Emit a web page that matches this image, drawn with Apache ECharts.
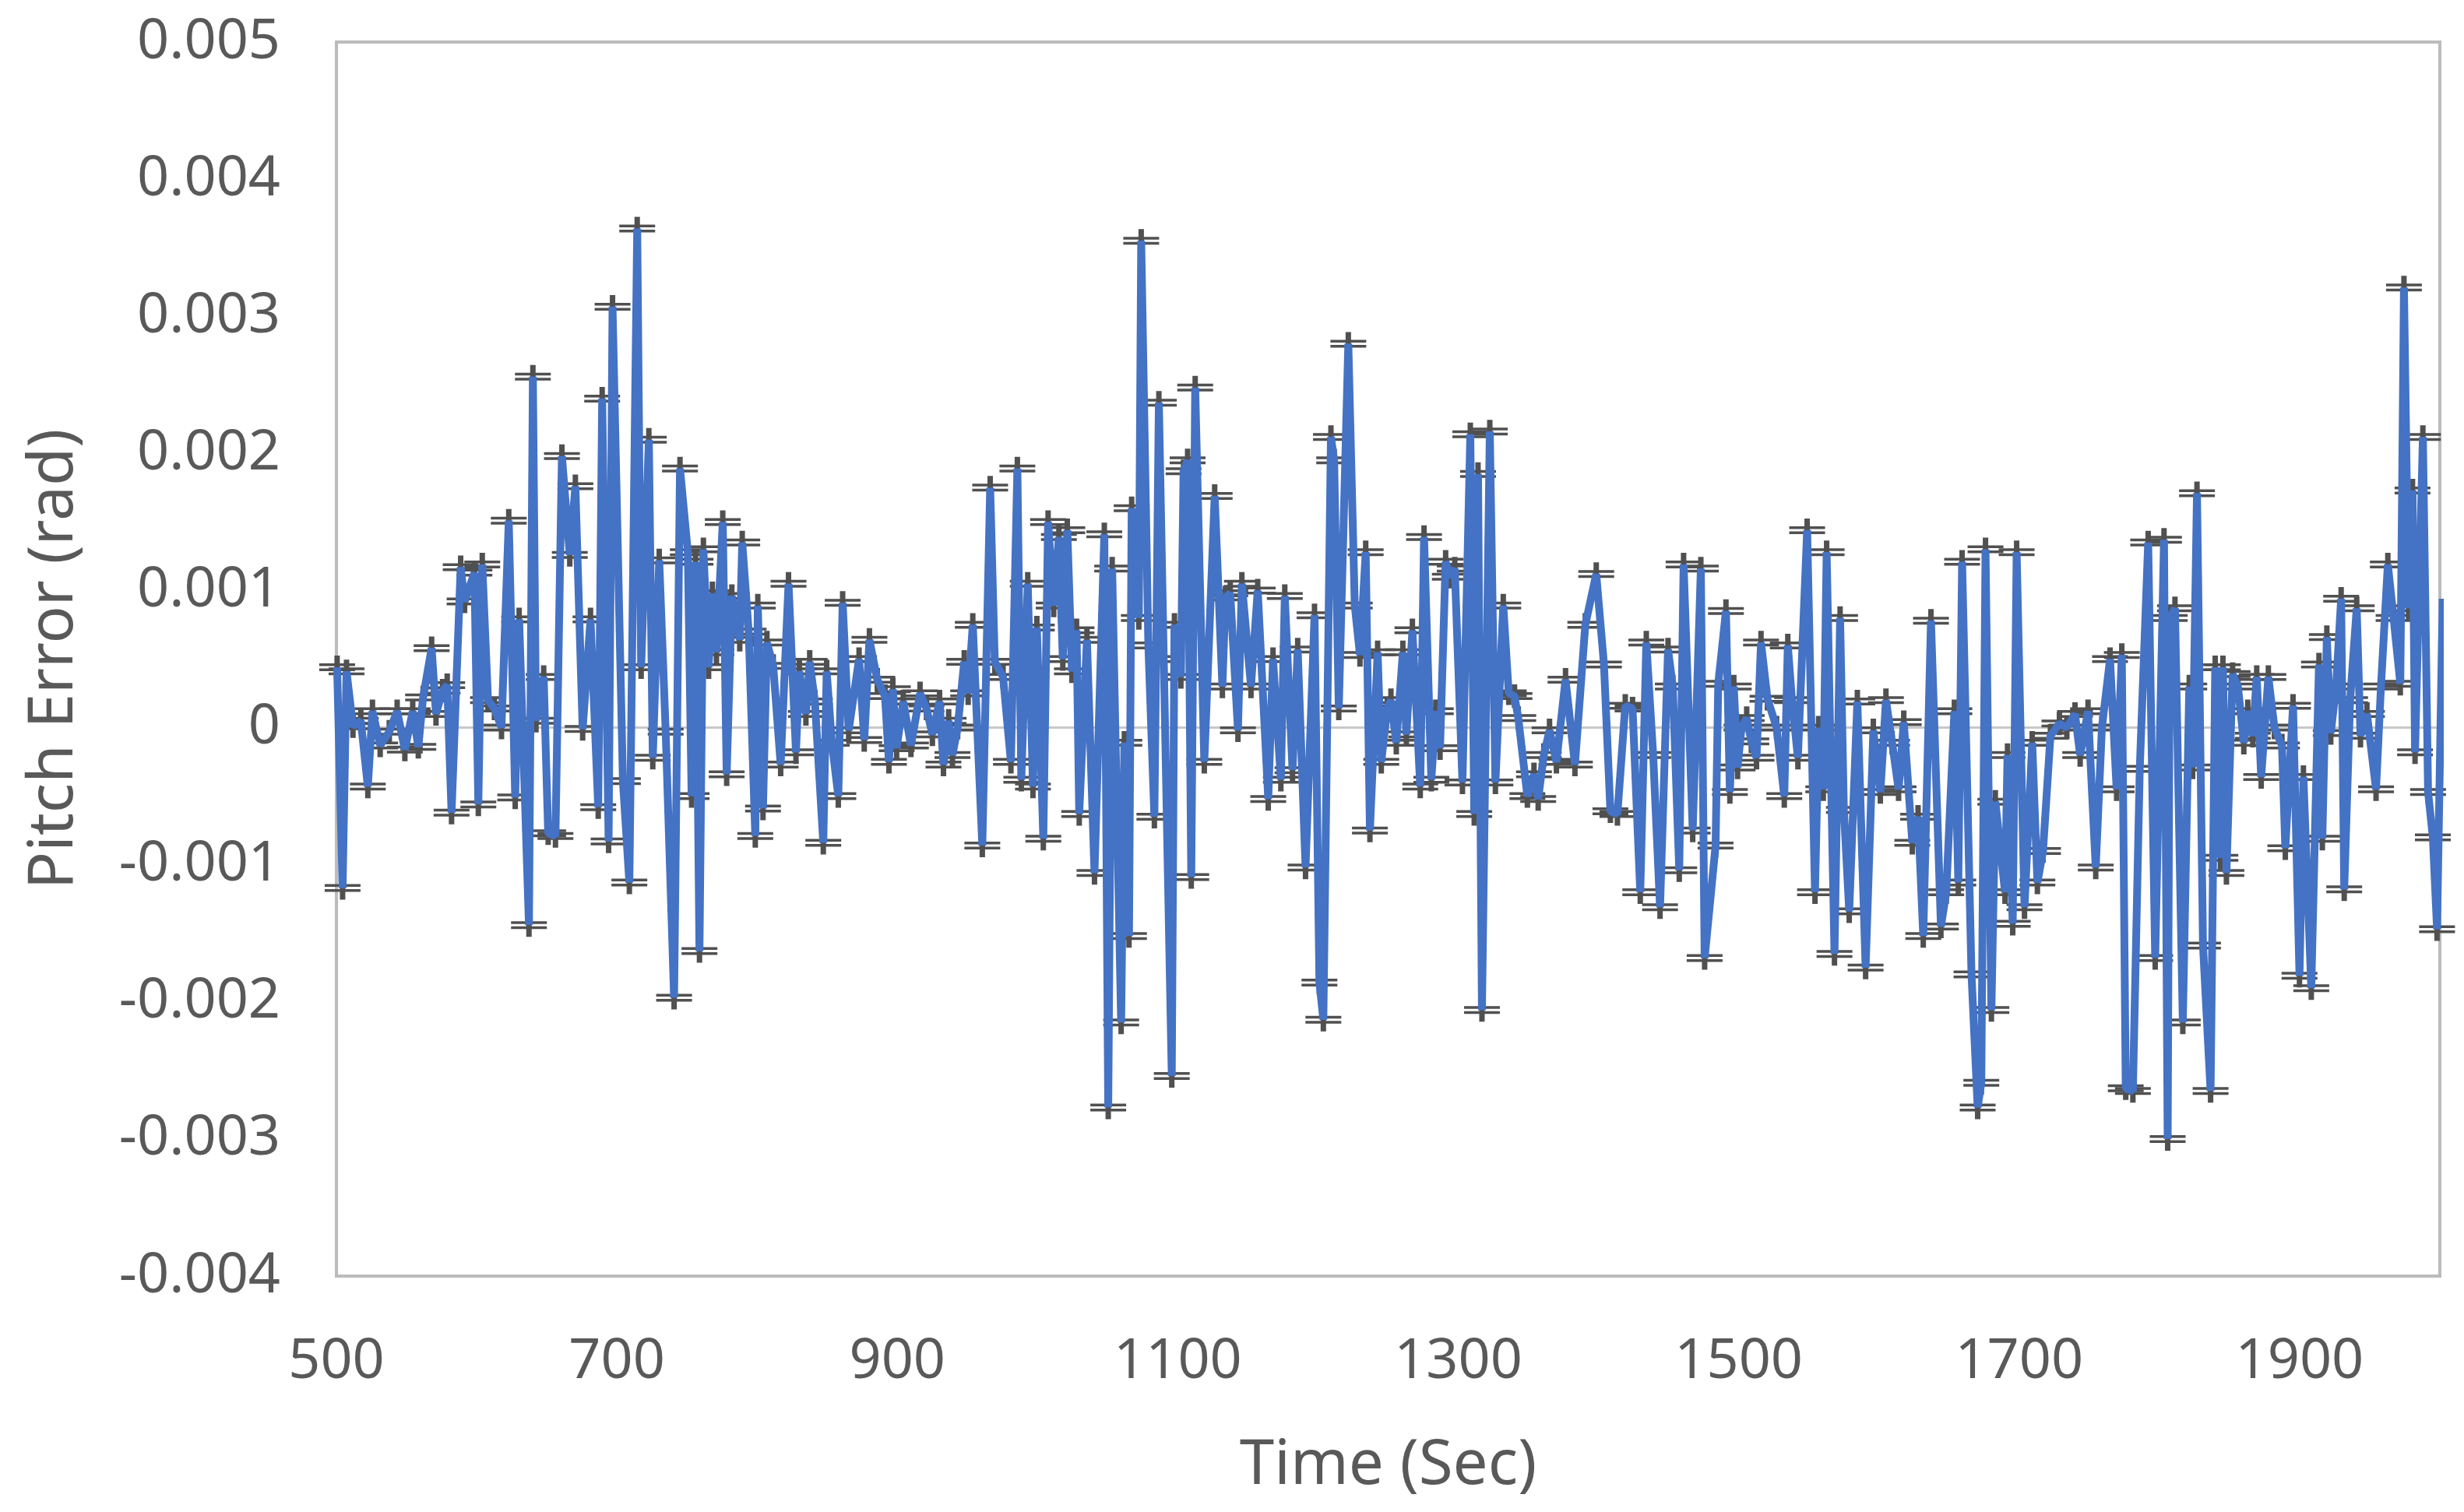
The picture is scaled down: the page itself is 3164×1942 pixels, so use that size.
<!DOCTYPE html>
<html>
<head>
<meta charset="utf-8">
<script src="https://cdn.jsdelivr.net/npm/echarts@6/dist/echarts.min.js"></script>
<style>
html,body{margin:0;padding:0;background:#fff;}
#chart{width:3164px;height:1942px;}
</style>
</head>
<body>
<div id="chart"></div>
<script>
// Time (s)
var timeSec = [
500.5,504.4,507.2,511.8,517.4,522.4,525.7,531.2,537.7,543.3,548.8,554.4,558.4,561.8,567.9,571.0,575.7,579.0,582.1,588.6,
591.4,598.4,601.2,604.0,608.1,612.7,617.7,622.9,627.5,630.3,637.3,640.1,642.3,647.8,651.0,656.2,660.8,666.4,670.4,675.6,
681.2,686.7,689.5,694.1,696.9,704.3,708.9,714.5,717.3,722.8,725.6,730.2,734.8,740.8,745.0,750.6,753.3,756.1,758.9,761.7,
765.4,768.1,771.0,775.5,778.3,782.0,787.6,789.4,794.0,798.7,800.5,804.2,807.0,811.5,816.8,822.4,827.7,830.1,834.8,837.5,
841.2,847.2,849.6,853.3,857.9,861.0,865.3,872.7,876.4,880.1,885.7,891.2,894.0,896.8,899.5,904.2,909.7,916.2,920.8,925.0,
930.1,932.9,936.6,939.3,943.0,947.7,950.5,953.8,960.6,966.2,969.5,975.4,981.0,985.6,988.4,993.0,996.7,999.5,1004.1,1007.5,
1011.5,1015.2,1018.0,1021.2,1024.5,1027.8,1029.7,1035.2,1040.6,1047.6,1050.4,1053.2,1059.6,1061.9,1065.2,1067.1,1072.2,1073.9,1079.0,1083.3,
1086.5,1090.0,1095.7,1097.6,1102.2,1104.1,1107.0,1109.6,1112.4,1118.9,1126.3,1131.8,1134.0,1137.4,1142.9,1145.7,1152.2,1157.0,1164.5,1167.9,
1173.5,1176.3,1181.8,1185.5,1191.1,1197.5,1201.0,1203.8,1209.2,1211.5,1214.8,1221.6,1226.2,1229.9,1234.0,1237.0,1242.5,1245.1,1249.4,1252.0,
1255.8,1260.5,1263.0,1267.3,1272.9,1275.6,1280.8,1284.0,1287.0,1291.0,1294.0,1297.5,1303.0,1308.6,1311.4,1314.1,1316.9,1322.5,1326.5,1332.1,
1336.0,1340.1,1342.8,1349.3,1354.0,1357.0,1361.0,1365.1,1370.0,1376.5,1383.2,1390.6,1398.4,1403.9,1408.5,1413.5,1419.1,1424.3,1429.8,1434.1,
1439.0,1443.9,1449.6,1453.0,1457.6,1460.7,1467.2,1473.0,1475.7,1483.5,1485.4,1490.9,1493.7,1496.5,1499.2,1502.0,1505.7,1509.0,1512.7,1515.9,
1520.5,1527.0,1532.5,1535.0,1538.0,1542.2,1548.8,1554.4,1557.0,1560.3,1562.7,1568.3,1572.3,1575.0,1578.8,1584.6,1590.5,1596.0,1601.0,1605.0,
1609.4,1614.0,1617.7,1623.8,1627.9,1631.6,1637.1,1644.2,1648.0,1653.8,1656.6,1659.3,1666.0,1670.4,1673.0,1676.0,1680.2,1683.0,1689.9,1691.7,
1695.4,1698.2,1703.8,1709.3,1713.0,1717.0,1722.3,1728.7,1734.0,1739.8,1743.5,1749.1,1754.6,1759.0,1764.8,1769.5,1773.2,1776.0,1781.1,1786.0,
1792.0,1797.0,1803.3,1805.9,1807.4,1811.1,1816.7,1821.3,1823.7,1826.8,1831.1,1836.5,1839.8,1843.5,1845.3,1847.8,1852.2,1856.0,1860.2,1863.0,
1866.6,1869.4,1872.6,1877.7,1882.0,1887.4,1889.8,1895.3,1899.9,1902.7,1908.3,1913.8,1916.2,1919.4,1922.2,1926.0,1929.6,1931.8,1936.0,1940.7,
1943.4,1948.0,1954.5,1958.0,1962.9,1967.0,1971.8,1974.4,1977.7,1980.5,1982.3,1987.9,1991.6,1995.0,1998.0,2002.0
];
// Pitch error (rad)
var pitchError = [
0.00044,-0.00117,0.00041,0.00001,0.00005,-0.00043,0.00012,-0.00013,-0.00003,0.00012,-0.00016,0.00012,-0.00014,0.00022,0.00058,0.00010,0.00027,0.00031,-0.00062,0.00117,
0.00092,0.00113,-0.00056,0.00119,0.00020,0.00014,0,0.00151,-0.00051,0.00079,-0.00144,0.00256,0.00005,0.00037,-0.00077,-0.00079,0.00198,0.00126,0.00176,-0.00001,
0.00079,-0.00058,0.00240,-0.00083,0.00307,-0.00039,-0.00113,0.00364,0.00044,0.00210,-0.00022,0.00122,-0.00003,-0.00197,0.00189,0.00128,-0.00050,0.00121,-0.00163,0.00130,
0.00044,0.00098,0.00055,0.00150,-0.00034,0.00096,0.00064,0.00135,0.00070,-0.00079,0.00089,-0.00059,0.00062,0.00045,-0.00027,0.00105,-0.00018,0.00041,0.00010,0.00048,
0.00019,-0.00084,0.00041,-0.00011,-0.00050,0.00091,-0.00002,0.00050,-0.00009,0.00064,0.00035,0.00023,-0.00025,0.00028,-0.00015,0.00019,-0.00013,0.00025,0.00014,-0.00005,
0.00019,-0.00027,0.00005,-0.00020,0,0.00048,0.00025,0.00075,-0.00086,0.00175,0.00048,0.00037,-0.00025,0.00189,-0.00038,0.00105,-0.00043,0.00073,-0.00081,0.00150,
0.00089,0.00139,0.00050,0.00144,0.00041,0.00071,-0.00063,0.00064,-0.00106,0.00141,-0.00277,0.00116,-0.00215,-0.00011,-0.00152,0.00160,0.00080,0.00355,0.00060,-0.00065,
0.00237,0.00050,-0.00254,0.00075,0.00037,0.00187,0.00195,-0.00109,0.00248,-0.00025,0.00169,0.00030,0.00095,0.00098,-0.00002,0.00105,0.00030,0.00100,-0.00052,0.00050,
-0.00038,0.00096,-0.00031,0.00057,-0.00102,0.00082,-0.00186,-0.00213,0.00212,0.00195,0.00014,0.00280,0.00089,0.00053,0.00128,-0.00075,0.00055,-0.00025,0.00014,0.00020,
-0.00011,0.00055,-0.00005,0.00071,-0.00043,0.00139,-0.00038,0.00012,-0.00015,0.00121,0.00110,0.00116,-0.00040,0.00214,-0.00063,0.00185,-0.00206,0.00216,-0.00040,0.00089,
0.00025,0.00023,0.00007,-0.00050,-0.00034,-0.00052,-0.00020,-0.00002,-0.00025,0.00035,-0.00027,0.00075,0.00112,0.00046,-0.00061,-0.00063,0.00016,0.00014,-0.00120,0.00062,
-0.00020,-0.00131,0.00057,0.00030,-0.00104,0.00119,-0.00075,0.00116,-0.00168,-0.00086,0.00032,0.00085,-0.00047,0.00030,-0.00029,0,0.00007,-0.00010,-0.00022,0.00062,
0.00021,0,-0.00050,0.00060,0.00020,-0.00022,0.00144,-0.00120,0,-0.00045,0.00128,-0.00165,0.00080,-0.00060,-0.00134,0.00019,-0.00175,-0.00002,-0.00047,0.00020,
-0.00011,-0.00045,0.00004,-0.00084,-0.00065,-0.00152,0.00078,-0.00145,-0.00120,0.00012,-0.00113,0.00121,-0.00180,-0.00277,-0.00259,0.00130,-0.00206,-0.00054,-0.00120,-0.00020,
-0.00143,0.00128,-0.00131,-0.00011,-0.00113,-0.00090,-0.00006,0.00003,0,0.00010,-0.00020,0.00012,-0.00102,0,0.00050,-0.00045,0.00053,-0.00263,-0.00265,-0.00030,
0.00135,-0.00168,0.00137,-0.00300,0.00080,0.00087,-0.00215,0.00030,-0.00029,0.00171,-0.00159,-0.00265,0.00044,-0.00095,0.00044,-0.00106,0.00039,0.00030,-0.00011,0.00012,
-0.00006,0.00037,-0.00036,0.00037,0,-0.00013,-0.00088,0.00016,-0.00181,-0.00036,-0.00190,0.00046,-0.00081,0.00066,-0.00004,0.00030,0.00094,-0.00118,0.00020,0.00087,
-0.00006,0.00010,-0.00045,0.00030,0.00119,0.00080,0.00032,0.00321,0.00087,0.00173,-0.00018,0.00212,-0.00047,-0.00080,-0.00147,0.00094
];
var xTicks = {min: 500, max: 2000, interval: 200};
var yTicks = {min: -0.004, max: 0.005, interval: 0.001};

var points = timeSec.map(function (t, i) { return [t, pitchError[i]]; });

var chart = echarts.init(document.getElementById('chart'));
var textColor = '#595959';
var font = 'Noto Sans';
chart.setOption({
  animation: false,
  backgroundColor: '#ffffff',
  grid: {
    left: 432, right: 31, top: 54, bottom: 303,
    show: true, borderColor: '#BBBBBB', borderWidth: 4, backgroundColor: 'transparent'
  },
  xAxis: {
    type: 'value',
    min: xTicks.min, max: xTicks.max, interval: xTicks.interval,
    name: 'Time (Sec)', nameLocation: 'middle', nameGap: 204,
    nameTextStyle: {fontSize: 80, color: textColor, fontFamily: font},
    axisLine: {show: false}, axisTick: {show: false}, splitLine: {show: false},
    axisLabel: {
      fontSize: 72, color: textColor, fontFamily: font, margin: 74,
      formatter: function (v) { return v === xTicks.max ? '' : String(v); }
    }
  },
  yAxis: {
    type: 'value',
    min: yTicks.min, max: yTicks.max, interval: yTicks.interval,
    name: 'Pitch Error (rad)', nameLocation: 'middle', nameGap: 322,
    nameTextStyle: {fontSize: 80, color: textColor, fontFamily: font},
    axisLine: {show: false}, axisTick: {show: false},
    splitLine: {show: true, lineStyle: {width: 3, color: ['transparent','transparent','transparent','transparent','#C8C8C8','transparent','transparent','transparent','transparent','transparent']}},
    axisLabel: {fontSize: 72, color: textColor, fontFamily: font, margin: 72}
  },
  series: [
    {
      type: 'scatter',
      data: points,
      z: 2,
      symbol: 'path://M0,10H46V13.5H0Z M0,16.5H46V20H0Z M19.5,0H26.5V30H19.5Z',
      symbolSize: [46, 30],
      itemStyle: {color: '#505050', opacity: 1},
      silent: true
    },
    {
      type: 'line',
      data: points,
      z: 3,
      showSymbol: false,
      symbol: 'none',
      smooth: false,
      sampling: null,
      lineStyle: {color: '#4472C4', width: 10},
      clip: true,
      silent: true
    }
  ]
});
</script>
</body>
</html>
